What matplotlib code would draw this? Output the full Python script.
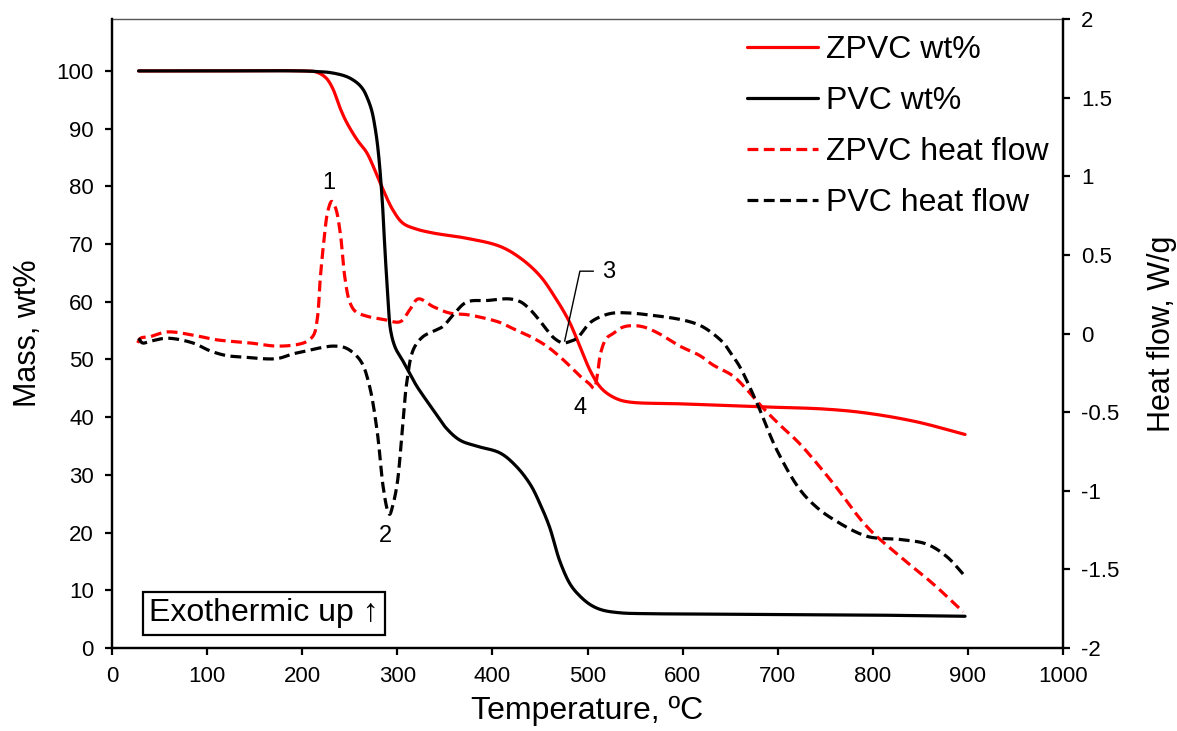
import numpy as np
import matplotlib
matplotlib.use("Agg")
import matplotlib.pyplot as plt

plt.rcParams['font.family'] = ['Liberation Sans', 'DejaVu Sans']

# ---- data ----
pvc_wt_T = [28, 100, 200, 215, 230, 247, 258, 264, 268, 273, 277, 280, 284, 287, 290, 293, 298,
            305, 313, 320, 338, 352, 366, 383, 408, 425, 440, 450, 460, 471, 482, 492, 503, 515,
            534, 560, 600, 700, 800, 897]
pvc_wt = [100, 100, 100, 99.9, 99.7, 99, 97.9, 96.8, 95.5, 93.2, 89.8, 86, 78, 69, 61, 55, 52,
          50, 47.6, 45.5, 41.2, 38, 36, 35, 33.8, 31.5, 28.3, 25, 21, 15, 11, 9, 7.5, 6.6,
          6.1, 5.95, 5.9, 5.8, 5.7, 5.5]

zpvc_wt_T = [28, 100, 200, 215, 225, 232, 240, 247, 258, 268, 282, 295, 306, 320, 338, 373,
             408, 430, 450, 465, 481, 495, 503, 512, 520, 532, 545, 600, 681, 750, 794, 846, 897]
zpvc_wt = [100, 100, 100, 99.8, 98.8, 97, 93.5, 91, 88, 85.8, 80.6, 76, 73.6, 72.6, 71.9, 71,
           69.6, 67.5, 64.5, 61, 56.5, 51, 48, 45.5, 44.2, 43.1, 42.6, 42.3, 41.8, 41.4, 40.7, 39.2, 37]

zpvc_hf_T = [27, 30, 40, 58, 85, 110, 145, 173, 195, 205, 212, 216, 219, 223, 227, 231, 235,
             240, 245, 250, 256, 268, 285, 303, 313, 322, 338, 355, 373, 390, 408, 422, 440,
             457, 475, 492, 502, 507, 510, 514, 520, 527, 537, 548, 560, 575, 597, 618, 632,
             653, 668, 684, 702, 723, 758, 794, 829, 863, 895]
zpvc_hf = [-0.06, -0.03, -0.02, 0.01, -0.01, -0.04, -0.06, -0.08, -0.07, -0.05, -0.01, 0.1,
           0.35, 0.6, 0.78, 0.84, 0.8, 0.64, 0.35, 0.2, 0.14, 0.11, 0.09, 0.075, 0.15, 0.22,
           0.17, 0.13, 0.12, 0.1, 0.07, 0.03, -0.02, -0.08, -0.17, -0.27, -0.32, -0.35, -0.28,
           -0.12, -0.03, 0.0, 0.04, 0.05, 0.04, 0.0, -0.08, -0.14, -0.2, -0.27, -0.36, -0.47,
           -0.58, -0.7, -0.95, -1.23, -1.42, -1.59, -1.77]

pvc_hf_T = [28, 32, 40, 58, 85, 103, 120, 138, 173, 190, 205, 220, 233, 245, 255, 263, 271,
            279, 285, 290, 292, 295, 300, 305, 310, 317, 327, 340, 348, 359, 373, 395, 418,
            430, 440, 450, 457, 465, 474, 482, 489, 503, 515, 527, 545, 562, 597, 615, 626,
            643, 650, 660, 678, 699, 723, 740, 758, 794, 829, 857, 878, 895]
pvc_hf = [-0.03, -0.06, -0.05, -0.03, -0.06, -0.11, -0.14, -0.15, -0.16, -0.13, -0.11, -0.09,
          -0.08, -0.09, -0.13, -0.19, -0.34, -0.63, -0.97, -1.13, -1.15, -1.1, -0.95, -0.63,
          -0.31, -0.1, -0.02, 0.02, 0.045, 0.12, 0.2, 0.21, 0.22, 0.2, 0.15, 0.08, 0.025, -0.03,
          -0.06, -0.05, -0.03, 0.07, 0.11, 0.13, 0.13, 0.12, 0.09, 0.06, 0.025, -0.06, -0.12,
          -0.21, -0.44, -0.74, -0.99, -1.1, -1.18, -1.29, -1.31, -1.34, -1.42, -1.53]

x_ticks = list(range(0, 1001, 100))
mass_ticks = list(range(0, 101, 10))
hf_ticks = [-2, -1.5, -1, -0.5, 0, 0.5, 1, 1.5, 2]
hf_labels = ['-2', '-1.5', '-1', '-0.5', '0', '0.5', '1', '1.5', '2']


def smooth_line(ax, xs, ys, n=14, **kw):
    """Draw a curve through the points with a centripetal Catmull-Rom spline,
    computed in display space so both axes are weighted evenly."""
    pts = ax.transData.transform(np.column_stack([xs, ys]))
    p = np.vstack([2 * pts[0] - pts[1], pts, 2 * pts[-1] - pts[-2]])
    out = [p[1]]
    for i in range(1, len(p) - 2):
        p0, p1, p2, p3 = p[i - 1], p[i], p[i + 1], p[i + 2]
        def tj(ti, a, b):
            return ti + max(np.linalg.norm(b - a), 1e-6) ** 0.5
        t0 = 0.0
        t1 = tj(t0, p0, p1)
        t2 = tj(t1, p1, p2)
        t3 = tj(t2, p2, p3)
        for t in np.linspace(t1, t2, n)[1:]:
            a1 = (t1 - t) / (t1 - t0) * p0 + (t - t0) / (t1 - t0) * p1
            a2 = (t2 - t) / (t2 - t1) * p1 + (t - t1) / (t2 - t1) * p2
            a3 = (t3 - t) / (t3 - t2) * p2 + (t - t2) / (t3 - t2) * p3
            b1 = (t2 - t) / (t2 - t0) * a1 + (t - t0) / (t2 - t0) * a2
            b2 = (t3 - t) / (t3 - t1) * a2 + (t - t1) / (t3 - t1) * a3
            out.append((t2 - t) / (t2 - t1) * b1 + (t - t1) / (t2 - t1) * b2)
    d = ax.transData.inverted().transform(np.array(out))
    return ax.plot(d[:, 0], d[:, 1], **kw)[0]


# ---- figure ----
W, H = 1177, 731
fig = plt.figure(figsize=(W / 100, H / 100), dpi=100)
ax = fig.add_axes([112 / W, 83 / H, (1063 - 112) / W, 629 / H])
ax2 = ax.twinx()

ax.set_xlim(0, 1000)
ax.set_ylim(0, 109)
ax2.set_ylim(-2, 2)
ax.set_xticks(x_ticks)
ax.set_yticks(mass_ticks)
ax2.set_yticks(hf_ticks)
ax2.set_yticklabels(hf_labels)

lw = 2.3
dash = (3.4, 1.7)
red = '#ff0000'

l1 = smooth_line(ax, zpvc_wt_T, zpvc_wt, color=red, lw=lw, solid_capstyle='round')
l2 = smooth_line(ax, pvc_wt_T, pvc_wt, color='black', lw=lw, solid_capstyle='round')
l3 = smooth_line(ax2, zpvc_hf_T, zpvc_hf, color=red, lw=lw, dashes=dash, dash_capstyle='butt')
l4 = smooth_line(ax2, pvc_hf_T, pvc_hf, color='black', lw=lw, dashes=dash, dash_capstyle='butt')

for a in (ax, ax2):
    for s in a.spines.values():
        s.set_linewidth(1.6)
    a.tick_params(direction='out', length=5, width=1.6, labelsize=16, pad=8)
ax.spines['top'].set_linewidth(1.0)
ax.spines['top'].set_color('#555555')
ax2.spines['top'].set_visible(False)

ax.set_xlabel('Temperature, ºC', fontsize=23, labelpad=6)
ax.set_ylabel('Mass, wt%', fontsize=22, labelpad=10)
ax2.set_ylabel('Heat flow, W/g', fontsize=22, rotation=90, labelpad=20)

# peak labels
ax.text(228, 80.6, '1', fontsize=17, ha='center', va='center')
ax.text(288, 19.4, '2', fontsize=17, ha='center', va='center')
ax.text(522, 65.2, '3', fontsize=17, ha='center', va='center')
ax.text(492, 41.6, '4', fontsize=17, ha='center', va='center')
ax.plot([476, 492, 506], [53.2, 65.3, 65.3], color='black', lw=1.0)

ax.text(160, 6.0, 'Exothermic up ↑', fontsize=23, ha='center', va='center',
        bbox=dict(boxstyle='square,pad=0.2', fc='white', ec='black', lw=1.6))

handles = [l1, l2, l3, l4]
labels = ['ZPVC wt%', 'PVC wt%', 'ZPVC heat flow', 'PVC heat flow']
ax2.legend(handles, labels, loc='upper right', frameon=False, fontsize=23,
           handlelength=2.2, handletextpad=0.25, labelspacing=0.66,
           bbox_to_anchor=(1.008, 1.01), borderaxespad=0.3)

fig.savefig('out.png', dpi=100)
